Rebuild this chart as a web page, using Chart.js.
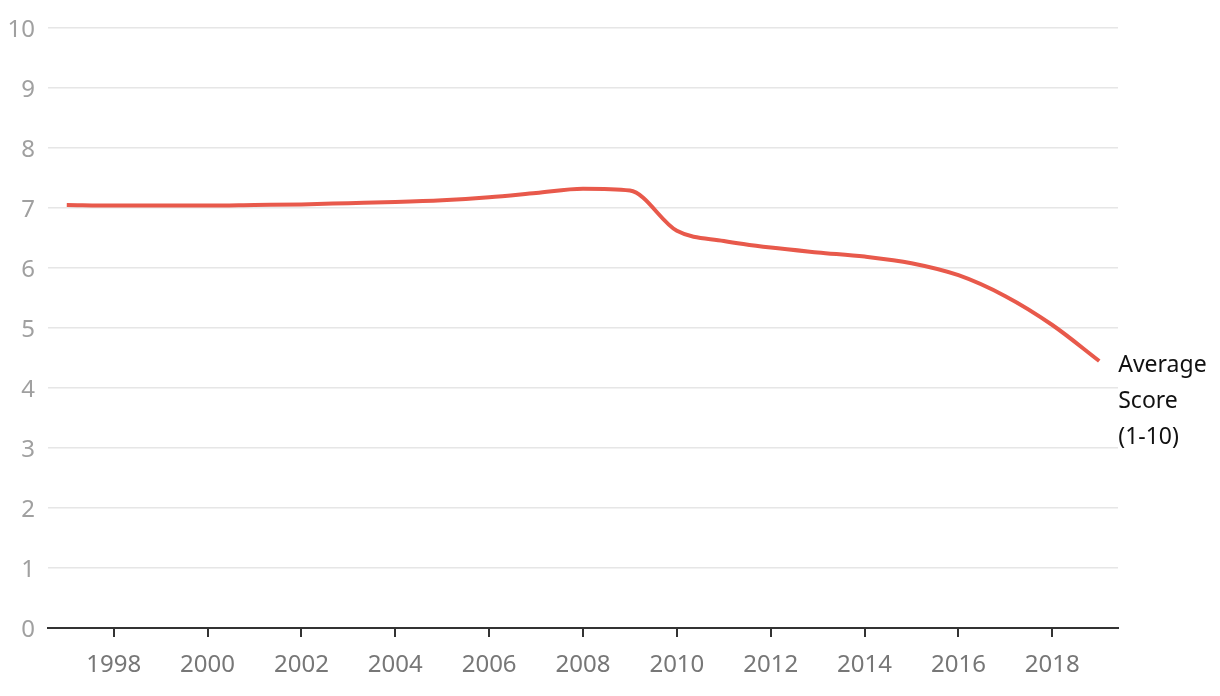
<!DOCTYPE html>
<html>
<head>
<meta charset="utf-8">
<script src="https://cdn.jsdelivr.net/npm/chart.js@4"></script>
<style>
  html, body { margin: 0; padding: 0; background: #fff; }
  #wrap { width: 1220px; height: 696px; }
</style>
</head>
<body>
<div id="wrap"><canvas id="myChart"></canvas></div>
<script>
const years = [1997, 1998, 1999, 2000, 2001, 2002, 2003, 2004, 2005, 2006, 2007,
  2008, 2009, 2010, 2011, 2012, 2013, 2014, 2015, 2016, 2017, 2018, 2019];
const scores = [7.05, 7.04, 7.04, 7.04, 7.05, 7.06, 7.08, 7.1, 7.13, 7.18, 7.25,
  7.32, 7.29, 6.62, 6.45, 6.34, 6.26, 6.19, 6.08, 5.88, 5.53, 5.05, 4.45];
const xTickLabels = [1998, 2000, 2002, 2004, 2006, 2008, 2010, 2012, 2014, 2016, 2018];
const seriesLabel = ["Average", "Score", "(1-10)"];

const fontFam = "'Noto Sans', sans-serif";

// label at the end of the line
const endLabel = {
  id: "endLabel",
  afterDatasetsDraw(chart) {
    const meta = chart.getDatasetMeta(0);
    const last = meta.data[meta.data.length - 1];
    const c = chart.ctx;
    c.save();
    c.font = "23px " + fontFam;
    c.fillStyle = "#111";
    c.textBaseline = "middle";
    seriesLabel.forEach((t, i) => {
      c.fillText(t, last.x + 19, last.y + 4 + i * 36);
    });
    c.restore();
  },
};

const ctx = document.getElementById("myChart");
const myChart = new Chart(ctx, {
  type: "line",
  data: {
    datasets: [
      {
        data: years.map((y, i) => ({ x: y, y: scores[i] })),
        borderColor: "#e8594b",
        borderWidth: 4,
        pointRadius: 0,
        cubicInterpolationMode: "monotone",
        fill: false,
      },
    ],
  },
  options: {
    responsive: true,
    maintainAspectRatio: false,
    animation: false,
    layout: { padding: { top: 28, right: 102, left: 0, bottom: 0 } },
    plugins: { legend: { display: false }, tooltip: { enabled: false } },
    scales: {
      x: {
        type: "linear",
        min: 1996.6,
        max: 2019.4,
        afterBuildTicks: (axis) => {
          axis.ticks = xTickLabels.map((v) => ({ value: v }));
        },
        afterFit: (axis) => { axis.height = 68; },
        grid: {
          drawOnChartArea: false,
          drawTicks: true,
          tickLength: 9,
          color: "#333",
          lineWidth: 2,
        },
        border: { display: true, color: "#333", width: 2 },
        ticks: {
          color: "#777",
          font: { size: 24, family: fontFam },
          padding: 14,
          maxRotation: 0,
          callback: (v) => String(v),
        },
      },
      y: {
        min: 0,
        max: 10,
        afterFit: (axis) => { axis.width = 48; },
        grid: { color: "#e6e6e6", lineWidth: 1.5, drawTicks: false },
        border: { display: false },
        ticks: {
          stepSize: 1,
          color: "#a0a0a0",
          font: { size: 24, family: fontFam },
          padding: 13,
          labelOffset: 2,
        },
      },
    },
  },
  plugins: [endLabel],
});
</script>
</body>
</html>
